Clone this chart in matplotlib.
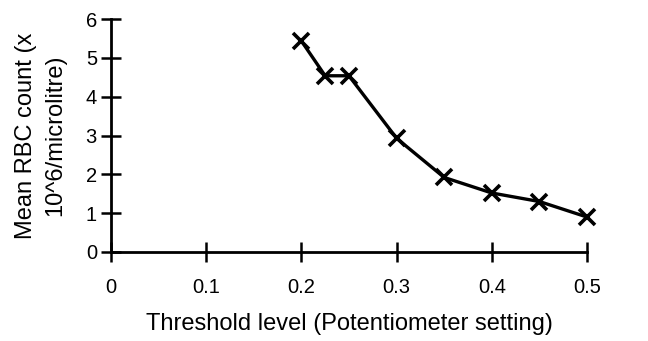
import matplotlib.pyplot as plt
import matplotlib

matplotlib.rcParams["font.family"] = ["Liberation Sans", "DejaVu Sans"]

# threshold level vs mean RBC count
threshold = [0.2, 0.225, 0.25, 0.3, 0.35, 0.4, 0.45, 0.5]
rbc_count = [5.44, 4.54, 4.54, 2.93, 1.92, 1.52, 1.3, 0.9]

x_ticks = [0, 0.1, 0.2, 0.3, 0.4, 0.5]
x_ticklabels = ["0", "0.1", "0.2", "0.3", "0.4", "0.5"]
y_ticks = [0, 1, 2, 3, 4, 5, 6]

fig = plt.figure(figsize=(6.48, 3.41), dpi=100)
ax = fig.add_axes([0.171, 0.261, 0.735, 0.683])

ax.plot(threshold, rbc_count, color="black", linewidth=2.4,
        marker="x", markersize=12, markeredgewidth=2.6, clip_on=False)

ax.set_xlim(0, 0.5)
ax.set_ylim(0, 6)
ax.set_xticks(x_ticks)
ax.set_xticklabels(x_ticklabels)
ax.set_yticks(y_ticks)

for side in ["top", "right"]:
    ax.spines[side].set_visible(False)
for side in ["left", "bottom"]:
    ax.spines[side].set_linewidth(2)

ax.tick_params(direction="inout", length=14, width=1.8, labelsize=14.5)
ax.tick_params(axis="x", pad=12)
ax.tick_params(axis="y", pad=3)

ax.set_xlabel("Threshold level (Potentiometer setting)", fontsize=17, labelpad=11)
ax.set_ylabel("Mean RBC count (x\n10^6/microlitre)", fontsize=17, labelpad=14,
              linespacing=1.45)

plt.savefig("out.png", dpi=100)
